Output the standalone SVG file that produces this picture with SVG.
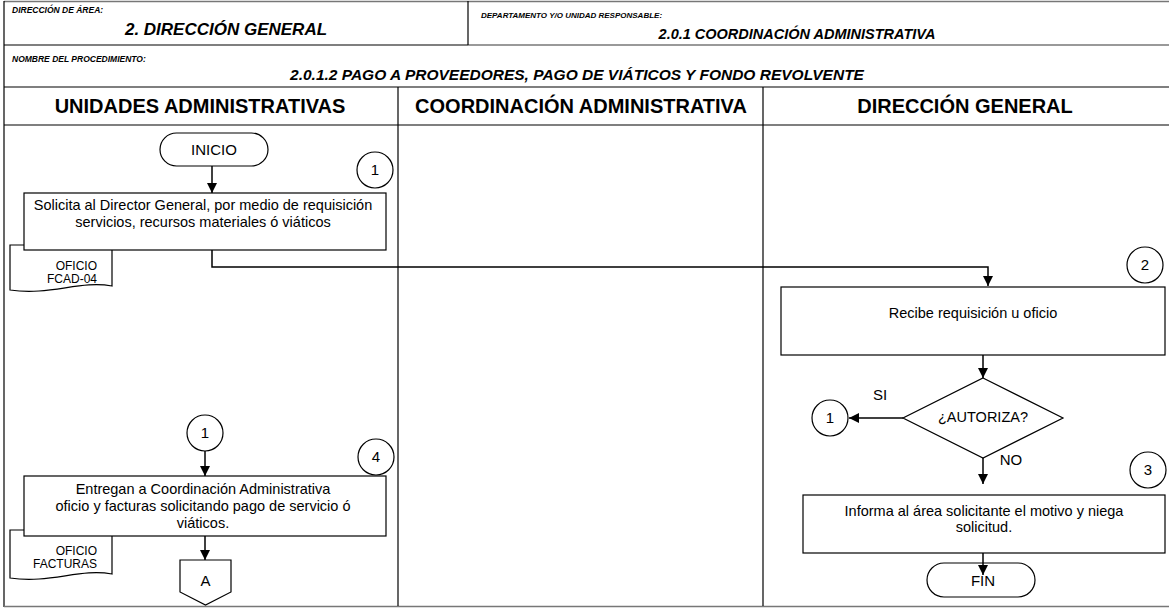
<svg xmlns="http://www.w3.org/2000/svg" width="1169" height="608" viewBox="0 0 1169 608">
<defs>
<style>
.gline{stroke:#777;stroke-width:1.5}
.bl{stroke:#000;stroke-width:1.2}
.lbl{font-family:"Liberation Sans",Arial,sans-serif;font-weight:bold;font-style:italic;fill:#000}
.hd{font-family:"Liberation Sans",Arial,sans-serif;font-weight:bold;font-size:20px;fill:#000;text-anchor:middle}
.box{fill:#fff;stroke:#000;stroke-width:1.2}
.t{font-family:"Liberation Sans",Arial,sans-serif;font-size:14.5px;fill:#000;text-anchor:middle}
.tl{font-family:"Liberation Sans",Arial,sans-serif;font-size:15px;fill:#000;text-anchor:middle}
.doc{font-family:"Liberation Sans",Arial,sans-serif;font-size:12px;fill:#000;text-anchor:end}
.conn{fill:none;stroke:#000;stroke-width:1.5}
</style>
<marker id="arr" viewBox="0 0 10 10" refX="10" refY="5" markerWidth="10" markerHeight="10" markerUnits="userSpaceOnUse" orient="auto">
<path d="M0,0 L10,5 L0,10 z" fill="#000"/>
</marker>
</defs>
<rect width="1169" height="608" fill="#fff"/>
<g id="header">
<line x1="4" y1="1.5" x2="1169" y2="1.5" class="gline"/>
<line x1="4" y1="1" x2="4" y2="607" class="bl"/>
<line x1="4" y1="45" x2="468" y2="45" class="bl"/>
<line x1="468" y1="45" x2="1169" y2="45" class="gline"/>
<line x1="468" y1="1" x2="468" y2="45" class="bl"/>
<line x1="4" y1="87" x2="1169" y2="87" class="bl"/>
<line x1="4" y1="125" x2="1169" y2="125" class="bl"/>
<line x1="4" y1="606.5" x2="1169" y2="606.5" class="gline"/>
<text class="lbl" x="12" y="13" font-size="8.5">DIRECCIÓN DE ÁREA:</text>
<text class="lbl" x="226" y="35" font-size="17" text-anchor="middle">2. DIRECCIÓN GENERAL</text>
<text class="lbl" x="481" y="18" font-size="8">DEPARTAMENTO Y/O UNIDAD RESPONSABLE:</text>
<text class="lbl" x="797" y="39" font-size="14.5" text-anchor="middle">2.0.1 COORDINACIÓN ADMINISTRATIVA</text>
<text class="lbl" x="12" y="62" font-size="8.5">NOMBRE DEL PROCEDIMIENTO:</text>
<text class="lbl" x="577" y="80" font-size="15.5" text-anchor="middle">2.0.1.2 PAGO A PROVEEDORES, PAGO DE VIÁTICOS Y FONDO REVOLVENTE</text>
</g>
<g id="lanes">
<line x1="398" y1="87" x2="398" y2="606" class="bl"/>
<line x1="763" y1="87" x2="763" y2="606" class="bl"/>
<text class="hd" x="200" y="113">UNIDADES ADMINISTRATIVAS</text>
<text class="hd" x="581" y="113">COORDINACIÓN ADMINISTRATIVA</text>
<text class="hd" x="965" y="113">DIRECCIÓN GENERAL</text>
</g>
<g id="connectors">
<line x1="212" y1="166" x2="212" y2="193" class="conn" marker-end="url(#arr)"/>
<polyline points="212,250 212,267 988,267 988,286" class="conn" marker-end="url(#arr)"/>
<line x1="983" y1="355" x2="983" y2="378" class="conn" marker-end="url(#arr)"/>
<line x1="903" y1="418" x2="849" y2="418" class="conn" marker-end="url(#arr)"/>
<line x1="983" y1="458" x2="983" y2="484" class="conn" marker-end="url(#arr)"/>
<line x1="983" y1="553" x2="983" y2="575" class="conn" marker-end="url(#arr)"/>
<line x1="205" y1="451" x2="205" y2="476" class="conn" marker-end="url(#arr)"/>
<line x1="205" y1="536" x2="205" y2="560" class="conn" marker-end="url(#arr)"/>
</g>
<g id="inicio">
<rect x="160" y="133" width="108" height="33" rx="16.5" class="box"/>
<text class="tl" x="214" y="155">INICIO</text>
</g>
<g id="step1-num">
<circle cx="375" cy="170" r="18" class="box"/>
<text class="tl" x="375" y="175">1</text>
</g>
<g id="doc1">
<path d="M10,245 H112 V286 C80,280 50,296 10,290 Z" class="box"/>
<text class="doc" x="97" y="270">OFICIO</text>
<text class="doc" x="97" y="283">FCAD-04</text>
</g>
<g id="step1">
<rect x="24" y="193" width="362" height="57" class="box"/>
<text class="t" x="203" y="210">Solicita al Director General, por medio de requisición</text>
<text class="t" x="203" y="227">servicios, recursos materiales ó viáticos</text>
</g>
<g id="step2-num">
<circle cx="1145" cy="265" r="18" class="box"/>
<text class="tl" x="1145" y="270">2</text>
</g>
<g id="step2">
<rect x="781" y="287" width="384" height="68" class="box"/>
<text class="t" x="973" y="318" font-size="14">Recibe requisición u oficio</text>
</g>
<g id="decision">
<polygon points="983,378 1063,418 983,458 903,418" class="box"/>
<text class="t" x="983" y="422" font-size="11.5">¿AUTORIZA?</text>
<text class="tl" x="880" y="400" font-size="14">SI</text>
<text class="tl" x="1011" y="465" font-size="14">NO</text>
</g>
<g id="conn-1-right">
<circle cx="830" cy="418" r="18" class="box"/>
<text class="tl" x="830" y="423">1</text>
</g>
<g id="step3-num">
<circle cx="1148" cy="470" r="18" class="box"/>
<text class="tl" x="1148" y="475">3</text>
</g>
<g id="step3">
<rect x="803" y="495" width="362" height="58" class="box"/>
<text class="t" x="984" y="516">Informa al área solicitante el motivo y niega</text>
<text class="t" x="984" y="532">solicitud.</text>
</g>
<g id="fin">
<rect x="927" y="563" width="108" height="34" rx="17" fill="none" stroke="#000" stroke-width="1.2"/>
<text class="tl" x="983" y="586">FIN</text>
</g>
<g id="conn-1-left">
<circle cx="205" cy="433" r="18" class="box"/>
<text class="tl" x="205" y="438">1</text>
</g>
<g id="step4-num">
<circle cx="376" cy="457" r="18" class="box"/>
<text class="tl" x="376" y="462">4</text>
</g>
<g id="doc2">
<path d="M10,530 H112 V574 C80,568 50,584 10,578 Z" class="box"/>
<text class="doc" x="97" y="555">OFICIO</text>
<text class="doc" x="97" y="568">FACTURAS</text>
</g>
<g id="step4">
<rect x="24" y="476" width="362" height="60" class="box"/>
<text class="t" x="203" y="494">Entregan a Coordinación Administrativa</text>
<text class="t" x="203" y="511">oficio y facturas solicitando pago de servicio ó</text>
<text class="t" x="203" y="528">viáticos.</text>
</g>
<g id="offpage-A">
<polygon points="180,560 231,560 231,592 205.5,605 180,592" class="box"/>
<text class="tl" x="205.5" y="586">A</text>
</g>
</svg>
